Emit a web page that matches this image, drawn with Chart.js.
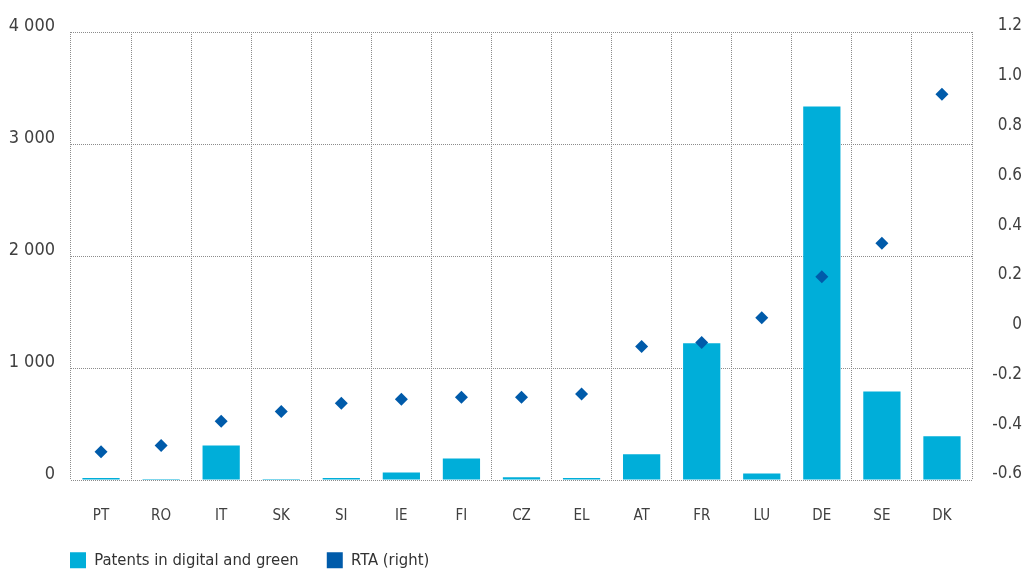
<!DOCTYPE html>
<html lang="en">
<head>
<meta charset="UTF-8">
<title>Patents in digital and green</title>
<script src="https://cdn.jsdelivr.net/npm/chart.js@4/dist/chart.umd.min.js"></script>
<style>
    body { margin: 0; background: #fff; }
    #wrap { width: 1022px; height: 574px; }
</style>
</head>
<body>
<div id="wrap"><canvas id="myChart"></canvas></div>
<script>
    // data
    var countries = ['PT', 'RO', 'IT', 'SK', 'SI', 'IE', 'FI', 'CZ', 'EL', 'AT', 'FR', 'LU', 'DE', 'SE', 'DK'];
    var patents = [18, 8, 308, 8, 18, 67, 192, 25, 18, 230, 1221, 58, 3335, 790, 390];
    var rta = [-0.486, -0.461, -0.364, -0.325, -0.292, -0.276, -0.268, -0.268, -0.254, -0.064, -0.048, 0.052, 0.217, 0.351, 0.95];
    var leftTicks = [0, 1000, 2000, 3000, 4000];
    var rightMin = -0.6, rightMax = 1.2, rightStep = 0.2;

    var font = "'Liberation Sans Narrow', 'DejaVu Sans Condensed', 'Noto Sans', sans-serif";
    Chart.defaults.font.family = font;
    Chart.defaults.color = '#404040';

    var gridStyle = {
        color: '#8c8c8c',
        lineWidth: 1,
        drawTicks: false
    };
    // in v4 the grid lines take their dash from border.dash
    var dotted = { display: false, dash: [1, 1] };

    // moves the legend to where the reference has it
    var legendPlace = {
        id: 'legendPlace',
        beforeDraw: function (chart) {
            chart.legend.left = 42;
            chart.legend.top = 524;
        }
    };

    var ctx = document.getElementById('myChart').getContext('2d');
    var myChart = new Chart(ctx, {
        type: 'bar',
        data: {
            labels: countries,
            datasets: [{
                label: 'Patents in digital and green',
                data: patents,
                backgroundColor: '#00AED9',
                borderWidth: 0,
                barPercentage: 0.62,
                categoryPercentage: 1,
                yAxisID: 'y',
                order: 2
            }, {
                type: 'line',
                label: 'RTA (right)',
                data: rta,
                showLine: false,
                backgroundColor: '#005BAA',
                borderColor: '#005BAA',
                borderWidth: 0,
                pointStyle: 'rectRot',
                pointRadius: 6.5,
                pointBorderWidth: 0,
                yAxisID: 'y1',
                order: 1
            }]
        },
        options: {
            responsive: true,
            maintainAspectRatio: false,
            animation: false,
            layout: { padding: { top: 32, left: 0, right: 0, bottom: 0 } },
            plugins: {
                tooltip: { enabled: false },
                legend: {
                    position: 'bottom',
                    align: 'start',
                    maxHeight: 44,
                    labels: {
                        boxWidth: 16,
                        boxHeight: 16,
                        padding: 28,
                        color: '#333',
                        font: { size: 16.5 },
                        sort: function (a, b) { return a.datasetIndex - b.datasetIndex; }
                    }
                }
            },
            scales: {
                x: {
                    offset: true,
                    grid: Object.assign({ offset: true }, gridStyle),
                    border: dotted,
                    ticks: { padding: 27, font: { size: 15 }, color: '#404040' },
                    afterFit: function (scale) { scale.height = 50; }
                },
                y: {
                    position: 'left',
                    min: leftTicks[0],
                    max: leftTicks[leftTicks.length - 1],
                    afterBuildTicks: function (scale) {
                        scale.ticks = leftTicks.map(function (v) { return { value: v }; });
                    },
                    grid: gridStyle,
                    border: dotted,
                    ticks: {
                        padding: 16,
                        labelOffset: -6,
                        font: { size: 18 },
                        callback: function (v) {
                            return String(v).replace(/\B(?=(\d{3})+(?!\d))/g, ' ');
                        }
                    },
                    afterFit: function (scale) { scale.width = 71; }
                },
                y1: {
                    position: 'right',
                    min: rightMin,
                    max: rightMax,
                    grid: { display: false, drawTicks: false },
                    border: { display: false },
                    ticks: {
                        stepSize: rightStep,
                        padding: 15,
                        labelOffset: -6,
                        crossAlign: 'far',
                        font: { size: 17 },
                        callback: function (v) {
                            if (Math.abs(v) < 1e-9) return '0';
                            return v.toFixed(1);
                        }
                    },
                    afterFit: function (scale) { scale.width = 50; }
                }
            }
        },
        plugins: [legendPlace]
    });
</script>
</body>
</html>
